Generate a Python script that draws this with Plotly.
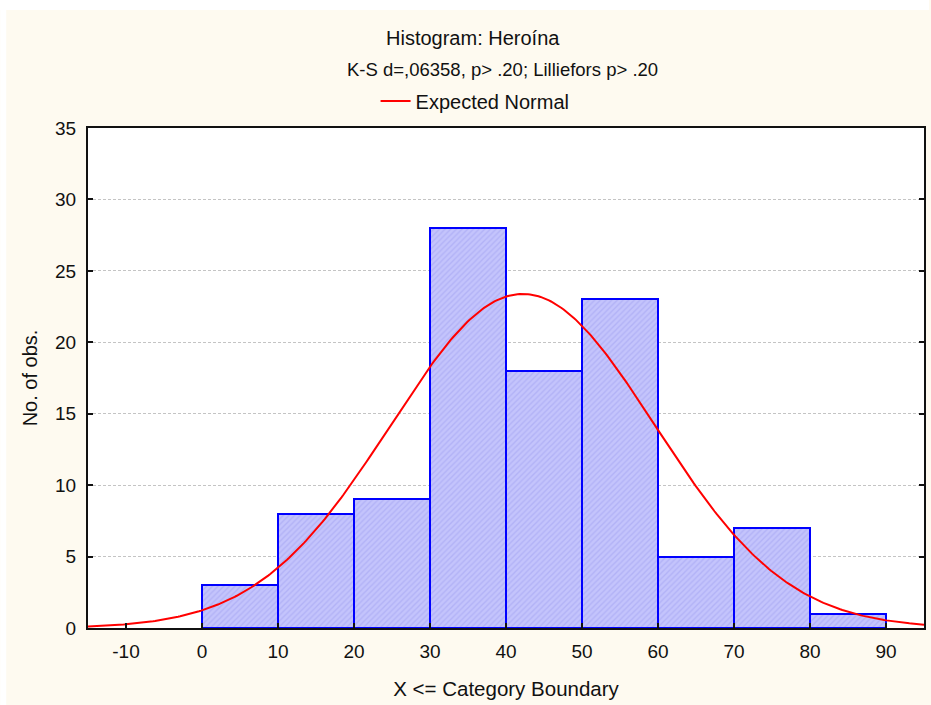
import numpy as np
import plotly.graph_objects as go

# Histogram bins (upper boundaries, X <= boundary) and counts
bin_upper = [10, 20, 30, 40, 50, 60, 70, 80, 90]
counts = [3, 8, 9, 28, 18, 23, 5, 7, 1]
bin_width = 10

# Fitted normal parameters for the expected-normal curve
fit_mean = 42.2
fit_sd = 17.4

x_ticks = [-10, 0, 10, 20, 30, 40, 50, 60, 70, 80, 90]
x_tick_text = ["-10", "0", "10", "20", "30", "40", "50", "60", "70", "80", "90"]
y_ticks = [0, 5, 10, 15, 20, 25, 30, 35]

n_obs = sum(counts)
centers = [u - bin_width / 2 for u in bin_upper]

xs = np.linspace(-15, 95, 400)
ys = n_obs * bin_width / (fit_sd * np.sqrt(2 * np.pi)) * np.exp(-0.5 * ((xs - fit_mean) / fit_sd) ** 2)

FONT = "Liberation Sans, Arial, sans-serif"
CREAM = "#FEFAF0"
INK = "#111111"

fig = go.Figure()
fig.add_trace(go.Bar(
    x=centers, y=counts, width=[bin_width] * len(counts),
    marker=dict(
        color="#C4C4FC",
        line=dict(color="#0000FF", width=2),
        pattern=dict(shape="/", fgcolor="#A0A0F0", size=4, solidity=0.35),
    ),
    showlegend=False,
))
fig.add_trace(go.Scatter(
    x=xs, y=ys, mode="lines", line=dict(color="#FF0000", width=2),
    name="Expected Normal",
))

W, H = 931, 705
L, R, T, B = 88, 5, 128, 77
pw, ph = W - L - R, H - T - B


def px_x(p):
    return (p - L) / pw


def px_y(p):
    return 1 - (p - T) / ph


fig.update_layout(
    width=W, height=H,
    margin=dict(l=L, r=R, t=T, b=B),
    paper_bgcolor=CREAM, plot_bgcolor="white",
    font=dict(family=FONT, size=18, color=INK),
    bargap=0,
    showlegend=True,
    legend=dict(
        orientation="h", x=px_x(476), xanchor="center", y=px_y(101), yanchor="middle",
        bgcolor="rgba(0,0,0,0)", font=dict(family=FONT, size=20, color=INK),
    ),
    xaxis=dict(
        range=[-15, 95], tickmode="array", tickvals=x_ticks, ticktext=x_tick_text,
        tickfont=dict(family=FONT, size=19, color=INK),
        ticks="inside", ticklen=5, tickwidth=2, tickcolor=INK,
        ticklabelstandoff=5,
        showline=True, linecolor=INK, linewidth=2, mirror=True,
        showgrid=False, zeroline=False,
        title=dict(text="X <= Category Boundary", standoff=21,
                   font=dict(family=FONT, size=20.5, color=INK)),
    ),
    yaxis=dict(
        range=[0, 35], tickmode="array", tickvals=y_ticks,
        tickfont=dict(family=FONT, size=19, color=INK),
        ticks="inside", ticklen=5, tickwidth=2, tickcolor=INK,
        ticklabelstandoff=6,
        showline=True, linecolor=INK, linewidth=2, mirror="ticks",
        showgrid=True, gridcolor="#C4C4C4", griddash="3px,2px", gridwidth=1,
        zeroline=False,
        title=dict(text="No. of obs.", standoff=12,
                   font=dict(family=FONT, size=20, color=INK)),
    ),
    annotations=[
        dict(text="Histogram: Heroína", xref="paper", yref="paper",
             x=px_x(474), y=px_y(38), xanchor="center", yanchor="middle",
             showarrow=False, font=dict(family=FONT, size=20, color=INK)),
        dict(text="K-S d=,06358, p> .20; Lilliefors p> .20", xref="paper", yref="paper",
             x=px_x(503), y=px_y(70), xanchor="center", yanchor="middle",
             showarrow=False, font=dict(family=FONT, size=18.5, color=INK)),
    ],
    shapes=[
        dict(type="rect", xref="paper", yref="paper", layer="above",
             x0=px_x(0), x1=px_x(W), y0=px_y(10), y1=px_y(0),
             fillcolor="white", line=dict(width=0)),
        dict(type="rect", xref="paper", yref="paper", layer="above",
             x0=px_x(0), x1=px_x(6), y0=px_y(H), y1=px_y(0),
             fillcolor="white", line=dict(width=0)),
    ],
)

fig.write_html("out.html")
